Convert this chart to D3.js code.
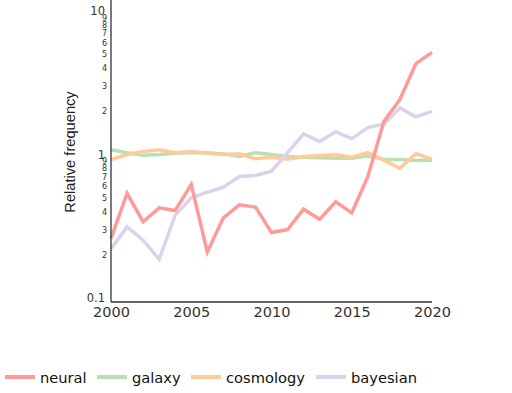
<!DOCTYPE html>
<html lang="en">
<head>
<meta charset="UTF-8" />
<title>Relative frequency</title>
<script src="https://cdn.jsdelivr.net/npm/d3@7"></script>
<style>
  body { margin: 0; background: #fff; }
  svg { display: block; }
</style>
</head>
<body>
<div id="chart"></div>
<script>
// data
const years = d3.range(2000, 2021);
const neural    = [0.26, 0.535, 0.34, 0.425, 0.407, 0.618, 0.209, 0.362, 0.446, 0.43, 0.286, 0.30, 0.416, 0.354, 0.468, 0.392, 0.70, 1.70, 2.42, 4.3, 5.15];
const galaxy    = [1.08, 1.03, 0.99, 1.0, 1.02, 1.03, 1.03, 1.01, 0.968, 1.03, 1.0, 0.97, 0.958, 0.948, 0.943, 0.943, 0.98, 0.923, 0.923, 0.908, 0.913];
const cosmology = [0.923, 1.0, 1.05, 1.08, 1.03, 1.05, 1.02, 1.0, 1.01, 0.933, 0.958, 0.928, 0.968, 0.984, 0.995, 0.958, 1.03, 0.913, 0.80, 1.016, 0.928];
const bayesian  = [0.22, 0.313, 0.253, 0.186, 0.378, 0.499, 0.546, 0.592, 0.703, 0.714, 0.765, 1.03, 1.39, 1.23, 1.44, 1.29, 1.54, 1.63, 2.11, 1.83, 2.0];

const seriesNames = ['neural', 'galaxy', 'cosmology', 'bayesian'];
const seriesColors = ['#ff9a9a', '#b8e0b1', '#ffcb99', '#ddd1eb'];
const xTicks = [2000, 2005, 2010, 2015, 2020];
const yMajor = [0.1, 1, 10];
const yMinor = [0.2, 0.3, 0.4, 0.5, 0.6, 0.7, 0.8, 0.9, 2, 3, 4, 5, 6, 7, 8, 9];

const width = 512, height = 393;
const plotLeft = 111, plotRight = 432, plotTop = 11, plotBottom = 298, axisBottomY = 302;

const svg = d3.select('#chart').append('svg')
  .attr('width', width).attr('height', height);

const x = d3.scaleLinear().domain([2000, 2020]).range([plotLeft, plotRight]);
const y = d3.scaleLog().domain([0.1, 10]).range([plotBottom, plotTop]);

const textColor = '#333';

// lines, drawn back to front
const dataBy = { neural, galaxy, cosmology, bayesian };
const drawOrder = ['galaxy', 'cosmology', 'bayesian', 'neural'];
const line = d3.line().x((d, i) => x(years[i])).y(d => y(d));

svg.append('g').attr('fill', 'none')
  .selectAll('path')
  .data(drawOrder)
  .join('path')
    .attr('d', k => line(dataBy[k]))
    .attr('stroke', k => seriesColors[seriesNames.indexOf(k)])
    .attr('stroke-width', 3.5)
    .attr('stroke-linejoin', 'miter');

// axis lines
svg.append('line')
  .attr('x1', plotLeft).attr('x2', plotLeft).attr('y1', 0).attr('y2', axisBottomY)
  .attr('stroke', textColor).attr('stroke-width', 1.3);
svg.append('line')
  .attr('x1', plotLeft).attr('x2', plotRight).attr('y1', axisBottomY).attr('y2', axisBottomY)
  .attr('stroke', textColor).attr('stroke-width', 1.3);

// y axis: major labels
const yMaj = svg.append('g')
  .attr('transform', `translate(${plotLeft},0)`)
  .call(d3.axisLeft(y).tickValues(yMajor).tickSize(0).tickPadding(6).tickFormat(d3.format('~g')));
yMaj.select('.domain').remove();
yMaj.selectAll('text')
  .attr('font-family', 'DejaVu Sans, sans-serif').attr('font-size', 11.5).attr('fill', textColor);

// y axis: minor labels
const yMin = svg.append('g')
  .attr('transform', `translate(${plotLeft},0)`)
  .call(d3.axisLeft(y).tickValues(yMinor).tickSize(0).tickPadding(4)
    .tickFormat(d => d < 1 ? String(Math.round(d * 10)) : String(d)));
yMin.select('.domain').remove();
yMin.selectAll('text')
  .attr('font-family', 'DejaVu Sans, sans-serif').attr('font-size', 8).attr('fill', textColor);

// x axis
const xAx = svg.append('g')
  .attr('transform', `translate(0,${axisBottomY})`)
  .call(d3.axisBottom(x).tickValues(xTicks).tickSize(0).tickPadding(5).tickFormat(d3.format('d')));
xAx.select('.domain').remove();
xAx.selectAll('text')
  .attr('font-family', 'DejaVu Sans, sans-serif').attr('font-size', 14.5).attr('fill', textColor);

// y title
svg.append('text')
  .attr('transform', 'translate(75,152) rotate(-90)')
  .attr('text-anchor', 'middle')
  .attr('font-family', 'Liberation Sans, Arial, sans-serif')
  .attr('font-size', 14.67)
  .attr('fill', '#222')
  .text('Relative frequency');

// legend
const legendX = [5, 97, 191, 316];
const lg = svg.append('g').selectAll('g')
  .data(seriesNames)
  .join('g')
    .attr('transform', (d, i) => `translate(${legendX[i]},377)`);
lg.append('line')
  .attr('x1', 0).attr('x2', 30)
  .attr('stroke', (d, i) => seriesColors[i])
  .attr('stroke-width', 4);
lg.append('text')
  .attr('x', 35).attr('y', 5.5)
  .attr('font-family', 'DejaVu Sans, sans-serif')
  .attr('font-size', 14.67)
  .attr('fill', '#111')
  .text(d => d);
</script>
</body>
</html>
